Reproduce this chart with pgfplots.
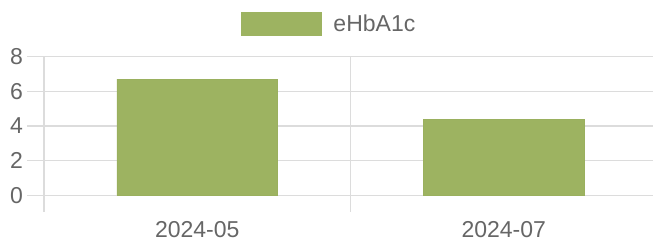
\documentclass[border=0pt]{standalone}
\usepackage{pgfplots}
\pgfplotsset{compat=1.18}
\usepackage{fontspec}
\setmainfont{Liberation Sans}
\definecolor{barfill}{RGB}{157,179,97}
\definecolor{barline}{RGB}{154,176,94}
\definecolor{gridgray}{RGB}{220,220,220}
\definecolor{txt}{RGB}{102,102,102}
\begin{document}
\begin{tikzpicture}[x=1pt,y=1pt]
\path[use as bounding box] (0,0) rectangle (653,246);
\begin{axis}[
  name=ax,
  at={(44pt,50.7pt)}, anchor=south west,
  scale only axis, width=613pt, height=138.6pt,
  xmin=-0.5, xmax=1.5, ymin=0, ymax=8,
  ytick={0,2,4,6,8},
  xtick={-0.5,0.5,1.5}, xticklabels={},
  extra x ticks={0,1}, extra x tick labels={2024-05,2024-07},
  extra x tick style={major tick length=0pt, grid=none,
    xticklabel style={yshift=-23pt}},
  axis x line*=bottom, axis y line*=left,
  axis line style={draw=gridgray, line width=1.2pt, -},
  grid=major, major grid style={draw=gridgray, line width=1.2pt},
  xtick style={draw=gridgray, line width=1.2pt},
  ytick style={draw=gridgray, line width=1.2pt},
  tick align=outside, major tick length=16.5pt,
  /pgf/number format/assume math mode=true,
  tick label style={font=\fontsize{23}{27}\selectfont, text=txt},
  yticklabel style={xshift=-1pt},
  ybar, bar width=160.5pt,
  legend style={at={(0.4633,1.238)}, anchor=center, draw=none, fill=none,
    font=\fontsize{23}{27}\selectfont, text=txt, inner sep=0pt,
    nodes={inner sep=0pt, anchor=west},
    /tikz/every odd column/.append style={column sep=12pt}},
  legend image code/.code={\fill[barfill] (0pt,-11.7pt) rectangle (80pt,11.7pt);},
  clip=false,
]
\addplot[fill=barfill, draw=barline, line width=0.8pt] coordinates {(0,6.7) (1,4.4)};
\addlegendentry{eHbA1c}
\end{axis}
\foreach \k in {0,1,2,3,4}{
  \draw[gridgray, line width=1.2pt] ([yshift=\k*34.65pt]ax.south west) -- ++(-16.5pt,0);
}
\end{tikzpicture}
\end{document}
